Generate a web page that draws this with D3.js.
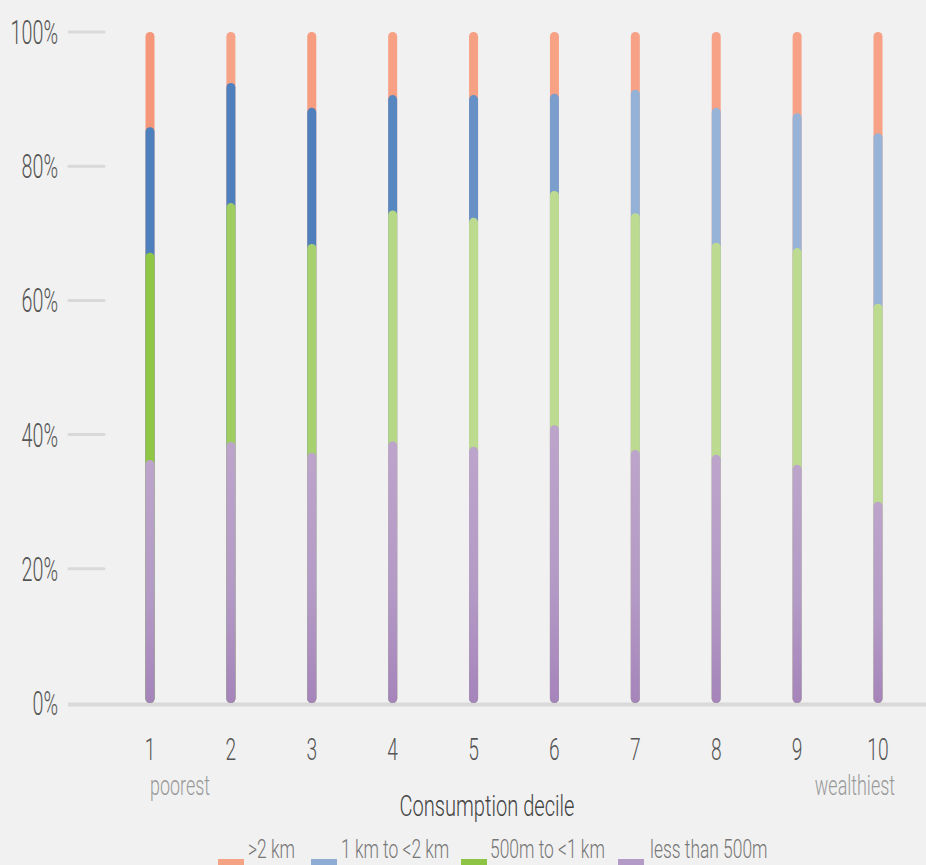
<!DOCTYPE html>
<html><head><meta charset="utf-8">
<script src="https://cdn.jsdelivr.net/npm/d3@7"></script>
<style>
html,body{margin:0;padding:0;background:#f1f1f1;}
svg{display:block;}
text{font-family:Roboto,"Liberation Sans",sans-serif;font-weight:300;}
</style></head>
<body>
<script>
// ---- data ----
const deciles = ["1","2","3","4","5","6","7","8","9","10"];
const seriesNames = [">2 km","1 km to <2 km","500m to <1 km","less than 500m"];
const lessThan500m = [36.2,38.9,37.3,39.0,38.2,41.4,37.7,37.0,35.5,30.0];
const m500to1km    = [30.9,35.6,31.1,34.4,34.1,34.9,35.3,31.6,32.3,29.5];
const km1to2       = [18.7,17.9,20.3,17.2,18.3,14.5,18.4,20.1,20.1,25.4];
const over2km      = [14.2, 7.6,11.3, 9.4, 9.4, 9.2, 8.6,11.3,12.1,15.1];
const yTicks = [0,20,40,60,80,100];
const xNotes = ["poorest","wealthiest"];
const xTitle = "Consumption decile";

// ---- styles ----
const orangeCols = ["#f5977a","#f7a387","#f69c7f","#f7a083","#f7a184","#f7a185","#f7a286","#f7a286","#f7a286","#f7a286"];
const blueCols   = ["#4e80bd","#4f80bd","#4f80bd","#5787c1","#6790c6","#7b9ecd","#94b1d7","#97b3d7","#97b3d7","#97b3d7"];
const greenCols  = ["#90c646","#9fcd61","#a7d16e","#b5d886","#bcdb8f","#bddb90","#bddb90","#bddb90","#bddb90","#bddb90"];
const legendCols = ["#f4a385","#8eacd4","#8ec444","#b49ac6"];

const W = 926, H = 865;
const svg = d3.select("body").append("svg").attr("width", W).attr("height", H);
svg.append("rect").attr("width", W).attr("height", H).attr("fill", "#f1f1f1");

const y = d3.scaleLinear().domain([0,100]).range([703,32]);
const x = d3.scalePoint().domain(deciles).range([150,878]);

const defs = svg.append("defs");
const grad = defs.append("linearGradient").attr("id","purpleGrad").attr("x1",0).attr("y1",0).attr("x2",0).attr("y2",1);
grad.append("stop").attr("offset","0%").attr("stop-color","#bca4cb");
grad.append("stop").attr("offset","55%").attr("stop-color","#b49bc6");
grad.append("stop").attr("offset","100%").attr("stop-color","#a584ba");

function ctext(g, str, px, py, size, anchor, color, sx){
  return g.append("text")
    .attr("transform", `translate(${px},${py}) scale(${sx},1)`)
    .attr("text-anchor", anchor)
    .attr("font-size", size)
    .attr("fill", color)
    .text(str);
}

// y ticks: short grey lines + labels
const yg = svg.append("g");
yTicks.forEach(t => {
  if (t !== 0) {
    yg.append("line").attr("x1",69).attr("x2",104).attr("y1",y(t)).attr("y2",y(t))
      .attr("stroke","#d9d9d9").attr("stroke-width",3).attr("stroke-linecap","round");
  }
  ctext(yg, t + "%", 58, y(t) + 12, 34, "end", "#555", 0.58);
});
// baseline
svg.append("line").attr("x1",68).attr("x2",926).attr("y1",y(0)+1.5).attr("y2",y(0)+1.5)
  .attr("stroke","#d9d9d9").attr("stroke-width",4);

// stacked bars
const stackKeys = ["less","m500","km1","over"];
const rows = deciles.map((d,i) => ({decile:d, less:lessThan500m[i], m500:m500to1km[i], km1:km1to2[i], over:over2km[i]}));
const stacked = d3.stack().keys(stackKeys)(rows);
const bw = 9;
// draw top segment first so lower ones overlay it
const drawOrder = [3,2,1,0];
const bars = svg.append("g");
drawOrder.forEach(si => {
  const layer = stacked[si];
  bars.selectAll(null).data(layer).enter().append("rect")
    .attr("x", (d,i) => x(deciles[i]) - bw/2)
    .attr("width", bw)
    .attr("y", d => y(d[1]))
    .attr("height", d => y(0) - y(d[1]))
    .attr("rx", bw/2).attr("ry", bw/2)
    .attr("fill", (d,i) => si===3 ? orangeCols[i] : si===2 ? blueCols[i] : si===1 ? greenCols[i] : "url(#purpleGrad)");
});

// x tick labels
const xg = svg.append("g");
deciles.forEach(d => ctext(xg, d, x(d), 760, 32, "middle", "#555", 0.6));
ctext(xg, xNotes[0], 150, 795, 28, "start", "#999", 0.64);
ctext(xg, xNotes[1], 895, 795, 28, "end", "#999", 0.64);
ctext(xg, xTitle, 487, 816, 30, "middle", "#444", 0.67);

// legend
const lg = svg.append("g");
const legendPos = [[218,248],[311,341],[461,490],[618,650]];
seriesNames.forEach((n,i) => {
  lg.append("rect").attr("x", legendPos[i][0]).attr("y", 859).attr("width", 26).attr("height", 6).attr("fill", legendCols[i]);
  ctext(lg, n, legendPos[i][1], 858, 26, "start", "#777", 0.67);
});
</script>
</body></html>
